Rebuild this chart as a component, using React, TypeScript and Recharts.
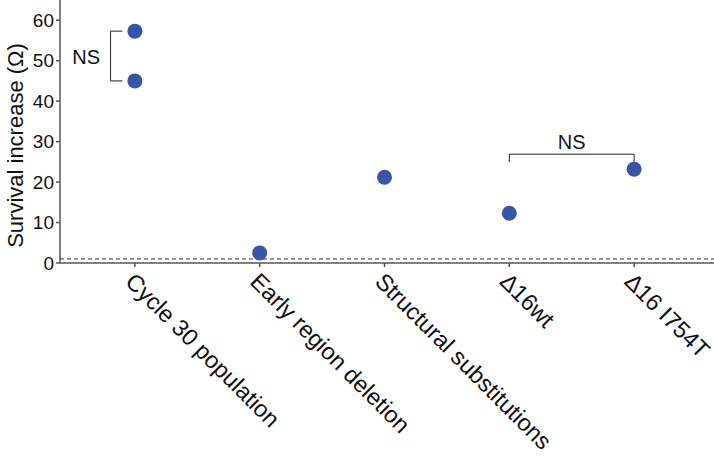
import React from 'react';
import {
  ScatterChart,
  Scatter,
  XAxis,
  YAxis,
  ReferenceLine,
  ReferenceDot,
  Label,
} from 'recharts';

const categories = [
  'Cycle 30 population',
  'Early region deletion',
  'Structural substitutions',
  'Δ16wt',
  'Δ16 I754T',
];
const pointCategory = [0, 0, 1, 2, 3, 4];
const pointValues = [57.3, 45, 2.5, 21.2, 12.3, 23.2];
const yTicks = [0, 10, 20, 30, 40, 50, 60];
const baselineValue = 1;

const data = pointCategory.map((c, i) => ({ x: c, y: pointValues[i] }));

const FONT = '"Liberation Sans", Arial, Helvetica, sans-serif';
const DOT = '#3a55a5';
const INK = '#222';

const XTick = (props: any) => {
  const { x, y, payload } = props;
  return (
    <g transform={`translate(${x + 1},${y + 2})`}>
      <text
        transform="rotate(45)"
        textAnchor="start"
        dominantBaseline="hanging"
        fontFamily={FONT}
        fontSize={23.5}
        fill="#111"
      >
        {categories[payload.value]}
      </text>
    </g>
  );
};

const NSText = (props: any) => (
  <text
    x={props.cx}
    y={props.cy}
    textAnchor="middle"
    dominantBaseline="central"
    fontFamily={FONT}
    fontSize={20}
    fill="#111"
  >
    NS
  </text>
);

const YLabel = (props: any) => {
  const vb = props.viewBox || { x: 0, y: 0, width: 60, height: 263 };
  const cy = vb.y + vb.height / 2;
  return (
    <text
      transform={`translate(${vb.x + 23},${cy + 14}) rotate(-90)`}
      textAnchor="middle"
      fontFamily={FONT}
      fontSize={22}
      fill="#111"
    >
      Survival increase (Ω)
    </text>
  );
};

export default function App() {
  return (
    <div style={{ position: 'fixed', left: 0, top: 0, width: 714, height: 459, background: '#fff' }}>
      <ScatterChart width={714} height={459} margin={{ top: 0, right: 0, bottom: 0, left: 0 }}>
        <XAxis
          type="number"
          dataKey="x"
          domain={[-0.6, 4.64]}
          allowDataOverflow
          ticks={[0, 1, 2, 3, 4]}
          tick={<XTick />}
          tickSize={4}
          height={196}
          stroke="#555"
          strokeWidth={1.5}
          interval={0}
        />
        <YAxis
          type="number"
          dataKey="y"
          domain={[0, 65]}
          allowDataOverflow
          ticks={yTicks}
          width={60}
          tickSize={4}
          stroke="#555"
          strokeWidth={1.5}
          tick={{ fontFamily: FONT, fontSize: 19, fill: '#111' }}
        >
          <Label content={<YLabel />} position="insideLeft" />
        </YAxis>
        <ReferenceLine y={baselineValue} stroke="#333" strokeDasharray="4 3" strokeWidth={1} />
        {/* left bracket */}
        <ReferenceLine segment={[{ x: -0.195, y: 57.3 }, { x: -0.195, y: 45 }]} stroke={INK} strokeWidth={1} />
        <ReferenceLine segment={[{ x: -0.195, y: 57.3 }, { x: -0.1, y: 57.3 }]} stroke={INK} strokeWidth={1} />
        <ReferenceLine segment={[{ x: -0.195, y: 45 }, { x: -0.1, y: 45 }]} stroke={INK} strokeWidth={1} />
        <ReferenceDot x={-0.39} y={50.8} r={0} shape={<NSText />} />
        {/* right bracket */}
        <ReferenceLine segment={[{ x: 3.0, y: 26.9 }, { x: 4.0, y: 26.9 }]} stroke={INK} strokeWidth={1} />
        <ReferenceLine segment={[{ x: 3.0, y: 26.9 }, { x: 3.0, y: 25 }]} stroke={INK} strokeWidth={1} />
        <ReferenceLine segment={[{ x: 4.0, y: 26.9 }, { x: 4.0, y: 25 }]} stroke={INK} strokeWidth={1} />
        <ReferenceDot x={3.5} y={29.8} r={0} shape={<NSText />} />
        <Scatter
          data={data}
          isAnimationActive={false}
          shape={(p: any) => <circle cx={p.cx} cy={p.cy} r={7.5} fill={DOT} />}
        />
      </ScatterChart>
    </div>
  );
}
